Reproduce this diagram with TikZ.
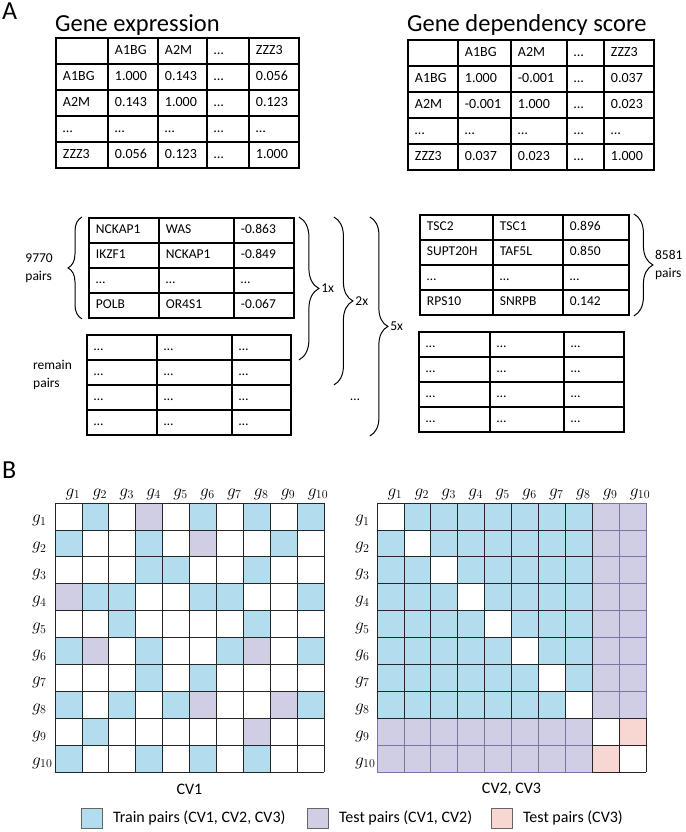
\documentclass[tikz,border=0pt]{standalone}
\usepackage{fontspec}
\setmainfont{Carlito}
\usepackage{tikz}
\usetikzlibrary{matrix,positioning,decorations.pathreplacing}

\tikzset{
  tcell/.style={draw=black, line width=1.9pt, inner xsep=7pt, inner ysep=0pt,
    align=left, text height=9.5pt, text depth=2.5pt},
  bigtable/.style={matrix of nodes, nodes in empty cells, anchor=north west,
    inner sep=0pt, outer sep=0pt, column sep=-1.9pt, row sep=-1.9pt,
    nodes={tcell, minimum height=26pt, font=\fontsize{14}{16}\selectfont}},
  pairtable/.style={matrix of nodes, nodes in empty cells, anchor=north west,
    inner sep=0pt, outer sep=0pt, column sep=-1.9pt, row sep=-1.9pt,
    nodes={tcell, minimum height=25pt, font=\fontsize{13.5}{16}\selectfont}},
  pairbrace/.style={decorate, decoration={brace, amplitude=#1}, line width=1pt},
  sidelabel/.style={inner sep=0pt, align=left, font=\fontsize{13.5}{18}\selectfont},
  panel/.style={inner sep=0pt, anchor=base west, font=\fontsize{26}{30}\selectfont},
  title/.style={inner sep=0pt, anchor=base west, font=\fontsize{24.5}{28}\selectfont},
  glabel/.style={inner sep=0pt, anchor=base west, font=\fontsize{18}{20}\selectfont},
  gridline/.style={draw=black!85, line width=0.7pt},
  keybox/.style={draw=black!60, line width=0.8pt, minimum width=21pt, minimum height=20pt, inner sep=0pt},
  keytext/.style={inner sep=0pt, font=\fontsize{16}{19}\selectfont},
  caption/.style={inner sep=0pt, font=\fontsize{16}{19}\selectfont}
}

\begin{document}
\begin{tikzpicture}[x=1pt, y=-1pt]

	\definecolor{trainblue}{RGB}{177,221,239}
	\definecolor{testpurple}{RGB}{208,206,228}
	\definecolor{testpink}{RGB}{248,215,210}
	\definecolor{purpleline}{RGB}{123,116,166}

	\useasboundingbox (0,0) rectangle (685,832);

	%% Panel A: correlation tables
	\node[panel] (panelA) at (2,20) {A};

	\matrix (expr) [bigtable,
	  column 1/.style={nodes={text width=38pt}},
	  column 2/.style={nodes={text width=36pt}},
	  column 3/.style={nodes={text width=35pt}},
	  column 4/.style={nodes={text width=28pt}},
	  column 5/.style={nodes={text width=36pt}}] at (55,37) {
	     & A1BG  & A2M   & … & ZZZ3  \\
	  A1BG & 1.000 & 0.143 & … & 0.056 \\
	  A2M  & 0.143 & 1.000 & … & 0.123 \\
	  …    & …     & …     & … & …     \\
	  ZZZ3 & 0.056 & 0.123 & … & 1.000 \\
	};
	\node[title] (exprtitle) at ([yshift=5pt]expr.north west) {Gene expression};

	\matrix (dep) [bigtable,
	  column 1/.style={nodes={text width=36pt}},
	  column 2/.style={nodes={text width=39pt}},
	  column 3/.style={nodes={text width=42pt}},
	  column 4/.style={nodes={text width=23pt}},
	  column 5/.style={nodes={text width=36pt}}] at (407,39) {
	     & A1BG   & A2M    & … & ZZZ3  \\
	  A1BG & 1.000  & -0.001 & … & 0.037 \\
	  A2M  & -0.001 & 1.000  & … & 0.023 \\
	  …    & …      & …      & … & …     \\
	  ZZZ3 & 0.037  & 0.023  & … & 1.000 \\
	};
	\node[title] (deptitle) at ([yshift=7pt]dep.north west) {Gene dependency score};

	%% Ranked pairs (left)
	\matrix (pairsA) [pairtable,
	  column 1/.style={nodes={text width=56pt}},
	  column 2/.style={nodes={text width=61pt}},
	  column 3/.style={nodes={text width=46pt}}] at (88,217) {
	  NCKAP1 & WAS    & -0.863 \\
	  IKZF1  & NCKAP1 & -0.849 \\
	  …      & …      & …      \\
	  POLB   & OR4S1  & -0.067 \\
	};

	\matrix (remain) [pairtable,
	  column 1/.style={nodes={text width=56pt}},
	  column 2/.style={nodes={text width=61pt}},
	  column 3/.style={nodes={text width=45pt}}] at (86,334) {
	  … & … & … \\
	  … & … & … \\
	  … & … & … \\
	  … & … & … \\
	};

	%% Ranked pairs (right)
	\matrix (pairsB) [pairtable,
	  column 1/.style={nodes={text width=59pt}},
	  column 2/.style={nodes={text width=56pt}},
	  column 3/.style={nodes={text width=52pt}}] at (419,214) {
	  TSC2     & TSC1  & 0.896 \\
	  SUPT20H  & TAF5L & 0.850 \\
	  …        & …     & …     \\
	  RPS10    & SNRPB & 0.142 \\
	};

	\matrix (restB) [pairtable,
	  column 1/.style={nodes={text width=57pt}},
	  column 2/.style={nodes={text width=60pt}},
	  column 3/.style={nodes={text width=46pt}}] at (418,331) {
	  … & … & … \\
	  … & … & … \\
	  … & … & … \\
	  … & … & … \\
	};

	%% Draw braces
	\draw[pairbrace=14pt] ([xshift=-6pt]pairsA.south west) -- ([xshift=-6pt]pairsA.north west);
	\node[sidelabel, anchor=east] (countA) at ([xshift=-35pt]pairsA.west) {9770\\pairs};
	\node[sidelabel, anchor=west] (remaintag) at ([xshift=-53pt,yshift=10pt]remain.west) {remain\\pairs};

	\draw[pairbrace=20pt] ([xshift=4pt]pairsA.north east)
	  -- node[sidelabel, anchor=west, xshift=22pt] (times1) {1x}
	  ([xshift=4pt]pairsA.north east |- remain-1-3.south);
	\draw[pairbrace=19pt] ([xshift=39pt]pairsA.north east)
	  -- node[sidelabel, anchor=west, xshift=21pt] (times2) {2x}
	  ([xshift=39pt]pairsA.north east |- remain-2-3.south);
	\draw[pairbrace=18pt] ([xshift=75pt]pairsA.north east)
	  -- node[sidelabel, anchor=west, xshift=20pt] (times5) {5x}
	  ([xshift=75pt]pairsA.north east |- remain.south);
	\node[sidelabel] (moretimes) at (355,400) {…};

	\draw[pairbrace=19pt] ([xshift=4pt]pairsB.north east) -- ([xshift=4pt]pairsB.south east);
	\node[sidelabel, anchor=west] (countB) at ([xshift=25pt]pairsB.east) {8581\\pairs};

	%% Panel B: cross-validation grids
	\node[panel] (panelB) at (2,478) {B};

	\begin{scope}[shift={(55,503)}, x=26.9pt, y=-26.9pt]
	  \foreach \r/\c in {1/2,1/6,1/8,1/10, 2/1,2/4,2/9, 3/4,3/5,3/8,
	                     4/2,4/3,4/6,4/7,4/10, 5/3,5/8, 6/1,6/4,6/7,6/10,
	                     7/4,7/6, 8/1,8/3,8/5,8/10, 9/2, 10/1,10/4,10/6,10/8}
	    \fill[trainblue] (\c-1,\r-1) rectangle (\c,\r);
	  \foreach \r/\c in {1/4, 2/6, 4/1, 6/2, 6/8, 8/6, 8/9, 9/8}
	    \fill[testpurple] (\c-1,\r-1) rectangle (\c,\r);
	  \foreach \i in {0,...,10} {
	    \draw[gridline] (\i,0) -- (\i,10);
	    \draw[gridline] (0,\i) -- (10,\i);
	  }
	  \foreach \k in {1,...,10} {
	    \node[glabel] (cvAcol\k) at (\k-0.61,-0.26) {$g_{\k}$};
	    \node[glabel] (cvArow\k) at (-0.86,\k-0.26) {$g_{\k}$};
	  }
	  \node[caption] (cvAname) at (5,10.63) {CV1};
	\end{scope}

	\begin{scope}[shift={(377,503)}, x=26.9pt, y=-26.9pt]
	  \fill[trainblue] (0,0) rectangle (8,8);
	  \foreach \k in {0,...,7}
	    \fill[white] (\k,\k) rectangle (\k+1,\k+1);
	  \fill[testpurple] (8,0) rectangle (10,8);
	  \fill[testpurple] (0,8) rectangle (8,10);
	  \fill[testpink] (9,8) rectangle (10,9);
	  \fill[testpink] (8,9) rectangle (9,10);
	  \foreach \i in {0,...,10} {
	    \draw[gridline, draw=purpleline] (\i,0) -- (\i,10);
	    \draw[gridline, draw=purpleline] (0,\i) -- (10,\i);
	  }
	  \foreach \i in {0,...,8} {
	    \draw[gridline] (\i,0) -- (\i,8);
	    \draw[gridline] (0,\i) -- (8,\i);
	  }
	  \foreach \i in {8,9,10} {
	    \draw[gridline] (\i,8) -- (\i,10);
	    \draw[gridline] (8,\i) -- (10,\i);
	  }
	  \foreach \k in {1,...,10} {
	    \node[glabel] (cvBcol\k) at (\k-0.61,-0.26) {$g_{\k}$};
	    \node[glabel] (cvBrow\k) at (-0.82,\k-0.26) {$g_{\k}$};
	  }
	  \node[caption] (cvBname) at (5,10.63) {CV2, CV3};
	\end{scope}

	%% Legend
	\node[keybox, fill=trainblue] (keytrain) at (92,818) {};
	\node[keytext, right=10pt of keytrain] (keytraintext) {Train pairs (CV1, CV2, CV3)};
	\node[keybox, fill=testpurple] (keytest) at (318,818) {};
	\node[keytext, right=10pt of keytest] (keytesttext) {Test pairs (CV1, CV2)};
	\node[keybox, fill=testpink] (keycv) at (502,818) {};
	\node[keytext, right=10pt of keycv] (keycvtext) {Test pairs (CV3)};

\end{tikzpicture}
\end{document}
